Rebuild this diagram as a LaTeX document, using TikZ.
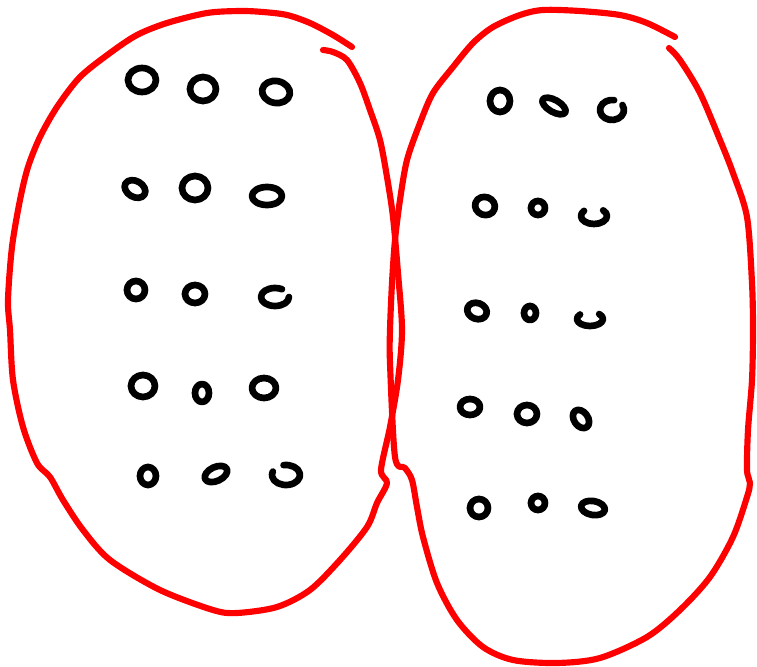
\documentclass[tikz,border=0pt]{standalone}
\begin{document}
\begin{tikzpicture}[
    % Coordenadas em pixels da figura original (y para baixo)
    x=0.01cm, y=-0.01cm,
    line cap=round, line join=round,
    contorno/.style={red, line width=1.75pt},
    anel/.style={black, line width=1.9pt}
]
    \useasboundingbox (0,0) rectangle (757,667);

    % ==========================================
    % 1. CONJUNTO DA ESQUERDA
    % ==========================================
    \draw[contorno] plot[smooth, tension=0.5] coordinates {
        (352,47) (333,35) (310,23) (287,15) (263,12) (240,11) (207,13)
        (167,23) (137,35) (110,53) (80,77) (57,107) (40,137) (28,167)
        (20,200) (12,247) (8,300) (10,330) (13,380) (23,427) (37,463)
        (50,477) (63,500) (83,530) (110,560) (160,590) (213,610) (237,613)
        (277,607) (310,590) (340,560) (367,527) (377,503) (387,483)
        (381,470) (390,427) (398,380) (402,330) (398,273) (393,217)
        (387,177) (380,140) (370,110) (360,83) (347,60) (333,52) (323,50)};

    % Bolinhas: x/y/raio x/raio y/rotacao/angulo inicial/angulo final
    \foreach \x/\y/\a/\b/\r/\i/\f in {
        142/80/14/12/0/0/360, 203/89/13/12/0/0/360, 276/92/14/11/-10/0/360,
        135/189/11/8/-30/0/360, 195/188/13/12/0/0/360, 267/196/15/9/0/0/360,
        136/290/9/9/0/0/360, 195/294/10/9/0/0/360, 275/297/14/9/0/0/300,
        143/386/12/11/0/0/360, 202/393/7/9/0/0/360, 264/388/12/10/0/0/360,
        148/476/8/9/0/0/360, 216/474/12/7/25/0/360, 286/475/14/10/0/260/560}
        \draw[anel, rotate around={\r:(\x,\y)}]
            ([shift={(\i:{\a} and {\b})}]\x,\y)
            arc[start angle=\i, end angle=\f, x radius=\a, y radius=\b];

    % ==========================================
    % 2. CONJUNTO DA DIREITA
    % ==========================================
    \draw[contorno] plot[smooth, tension=0.5] coordinates {
        (675,37) (647,23) (620,15) (580,11) (543,10) (520,15) (493,27)
        (473,43) (453,67) (433,93) (420,123) (407,160) (400,200) (395,240)
        (392,283) (390,330) (390,363) (395,457) (405,468) (412,480)
        (417,507) (423,537) (437,583) (457,620) (483,647) (513,660)
        (557,663) (600,658) (647,637) (680,610) (710,577) (733,537)
        (747,497) (750,483) (747,470) (748,430) (752,380) (753,330)
        (752,283) (747,217) (733,173) (720,140) (700,93) (680,60) (669,48)};

    \foreach \x/\y/\a/\b/\r/\i/\f in {
        500/101/10/11/0/0/360, 554/106/13/6/-30/0/360, 612/110/12/10/0/330/640,
        485/206/10/9/-20/0/360, 538/208/7/7/0/0/360, 594/216/13/8/0/315/580,
        477/311/10/8/-20/0/360, 530/313/6/7/0/0/360, 590/319/13/7/0/315/580,
        470/407/10/8/0/0/360, 527/414/10/9/0/0/360, 581/419/7/10/35/0/360,
        479/508/9/9/0/0/360, 538/503/7/7/0/0/360, 593/508/12/7/-10/0/360}
        \draw[anel, rotate around={\r:(\x,\y)}]
            ([shift={(\i:{\a} and {\b})}]\x,\y)
            arc[start angle=\i, end angle=\f, x radius=\a, y radius=\b];

\end{tikzpicture}
\end{document}
